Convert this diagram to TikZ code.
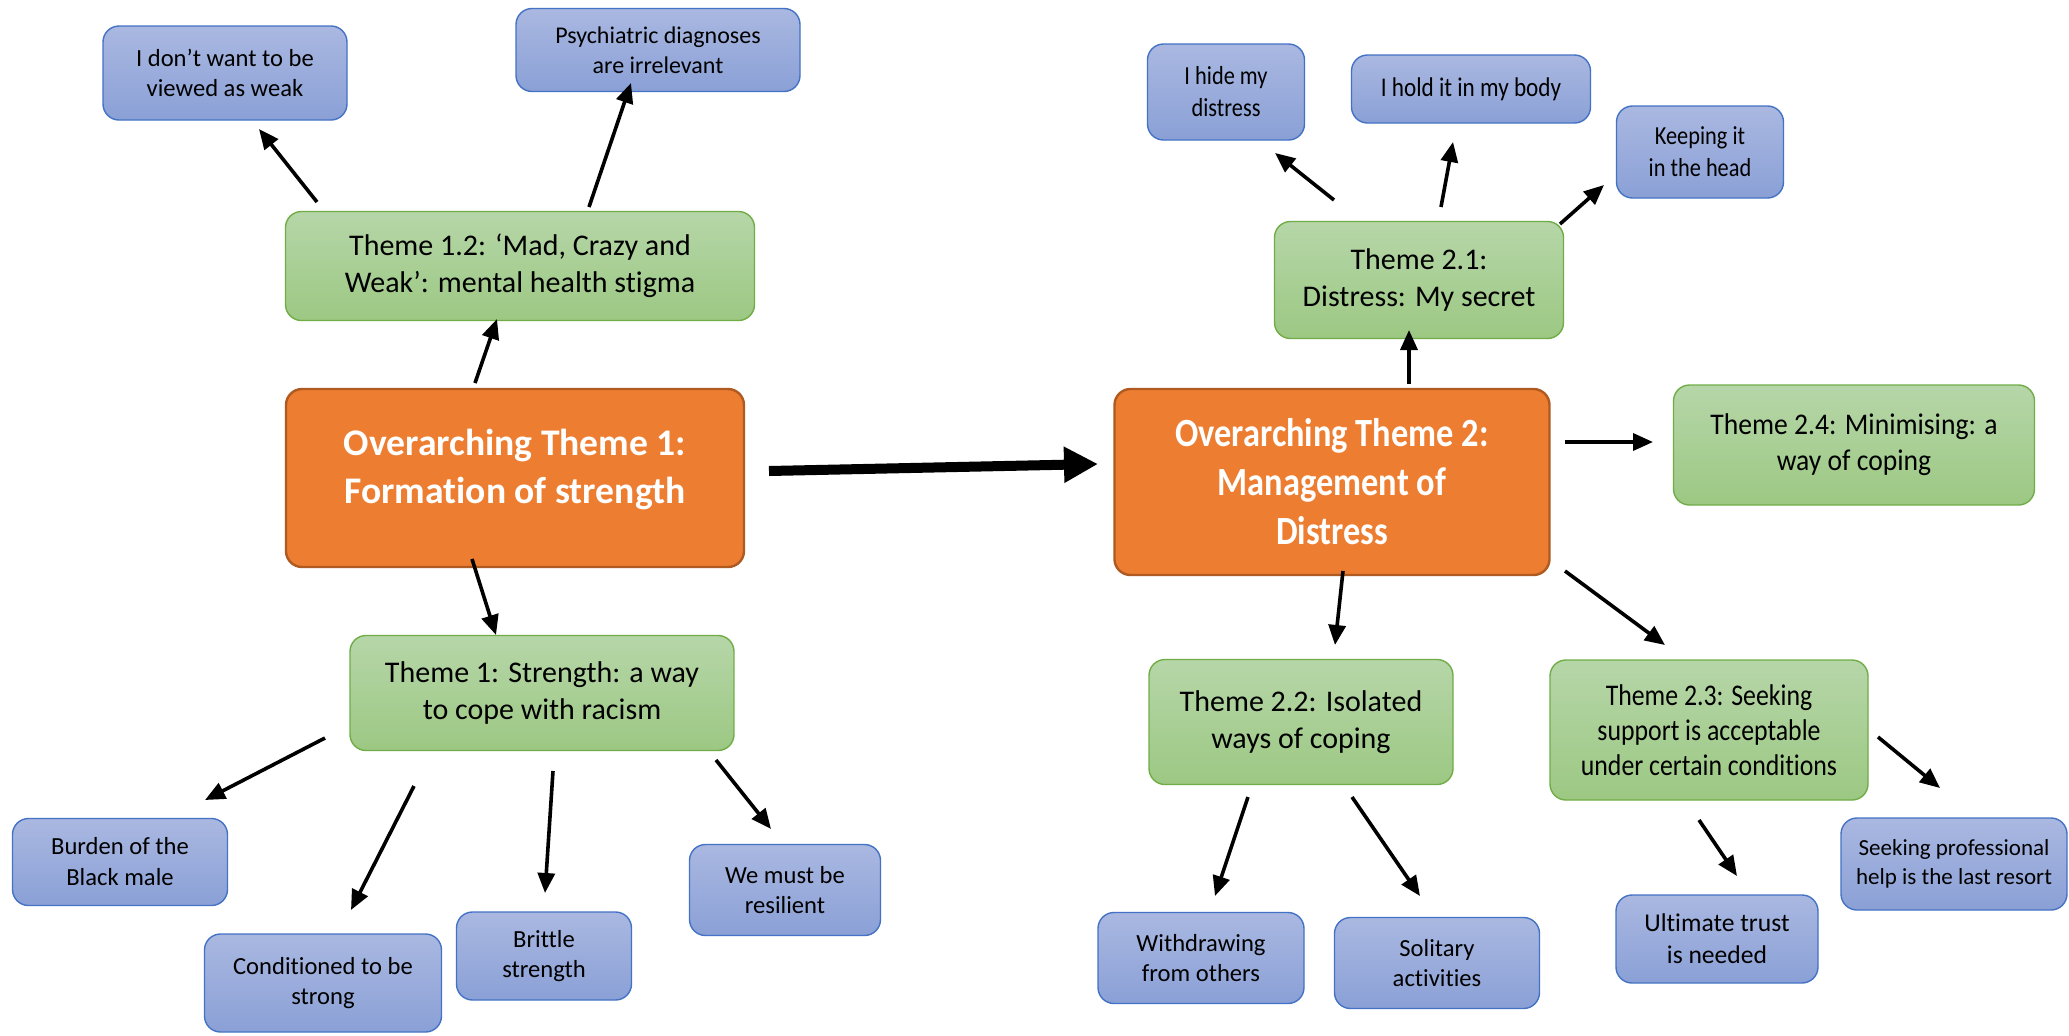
\documentclass[tikz,border=0pt]{standalone}
\usepackage{fontspec}
\setmainfont{Carlito}[Ligatures=CommonOff]
\newfontfamily\condfont[FakeStretch=0.86,Ligatures=CommonOff]{Carlito}
\newfontfamily\semicondfont[FakeStretch=0.92,Ligatures=CommonOff]{Carlito}
\usetikzlibrary{arrows.meta}
\definecolor{gtop}{HTML}{B6D6A8}
\definecolor{gbot}{HTML}{9CC883}
\definecolor{gline}{HTML}{70AD47}
\definecolor{btop}{HTML}{AAB8E1}
\definecolor{bbot}{HTML}{8AA0D6}
\definecolor{bline}{HTML}{4472C4}
\definecolor{ofill}{HTML}{ED7D31}
\definecolor{oline}{HTML}{AE5A21}
\tikzset{
  sz/.style 2 args={minimum width=#1*0.5pt, minimum height=#2*0.5pt},
  basebox/.style={rounded corners=8pt, align=center, inner sep=0pt, line width=0.7pt},
  greenbox/.style={basebox, draw=gline, top color=gtop, bottom color=gbot,
    font=\fontsize{15}{18.5}\selectfont},
  bluebox/.style={basebox, draw=bline, top color=btop, bottom color=bbot,
    font=\fontsize{12.3}{15}\selectfont},
  orangebox/.style={basebox, draw=oline, fill=ofill, line width=1.2pt, text=white,
    font=\fontsize{18.8}{24}\selectfont\bfseries},
  arr/.style={line width=1.8pt, -{Triangle[length=10pt,width=8.5pt]}},
  bigarr/.style={line width=5pt, -{Triangle[length=17pt,width=17pt]}}
}
\begin{document}
\begin{tikzpicture}[x=0.5pt,y=-0.5pt]
\useasboundingbox (0,0) rectangle (2069,1035);
\fill[white] (0,0) rectangle (2069,1035);

% ---- left cluster
\node[bluebox, sz={244}{94}] (weak) at (225,73) {I don’t want to be\\viewed as weak};
\node[bluebox, sz={284}{83}, font=\fontsize{12}{15}\selectfont] (psych) at (658,50) {Psychiatric diagnoses\\are irrelevant};
\node[greenbox, sz={469}{109}] (th12) at (520,266) {Theme 1.2: ‘Mad, Crazy and\\Weak’: mental health stigma};
\node[orangebox, sz={458}{178}, text depth=11.5pt] (ot1) at (515,478) {Overarching Theme 1:\\Formation of strength};
\node[greenbox, sz={384}{115}] (th1) at (542,693) {Theme 1: Strength: a way\\to cope with racism};
\node[bluebox, sz={215}{87}, font=\fontsize{12.3}{15.5}\selectfont] (burden) at (120,862) {Burden of the\\Black male};
\node[bluebox, sz={237}{98}] (cond) at (323,983) {Conditioned to be\\strong};
\node[bluebox, sz={175}{88}] (brittle) at (544,956) {Brittle\\strength};
\node[bluebox, sz={191}{91}] (resil) at (785,890) {We must be\\resilient};

% ---- right cluster
\node[bluebox, sz={157}{96}, font=\fontsize{13}{16}\selectfont\condfont] (hide) at (1226,92) {I hide my\\distress};
\node[bluebox, sz={239}{68}, font=\fontsize{13.5}{16}\selectfont\condfont] (hold) at (1471,89) {I hold it in my body};
\node[bluebox, sz={167}{92}, font=\fontsize{13}{16}\selectfont\condfont] (keep) at (1700,152) {Keeping it\\in the head};
\node[greenbox, sz={289}{117}] (th21) at (1419,280) {Theme 2.1:\\Distress: My secret};
\node[orangebox, sz={435}{186}, font=\fontsize{20}{24.5}\selectfont\bfseries\condfont] (ot2) at (1332,482) {Overarching Theme 2:\\Management of\\Distress};
\node[greenbox, sz={361}{120}, font=\fontsize{15}{18}\selectfont\semicondfont] (th24) at (1854,445) {Theme 2.4: Minimising: a\\way of coping};
\node[greenbox, sz={304}{125}] (th22) at (1301,722) {Theme 2.2: Isolated\\ways of coping};
\node[greenbox, sz={318}{140}, font=\fontsize{15}{17.5}\selectfont\condfont] (th23) at (1709,730) {Theme 2.3: Seeking\\support is acceptable\\under certain conditions};
\node[bluebox, sz={206}{91}] (withd) at (1201,958) {Withdrawing\\from others};
\node[bluebox, sz={205}{91}] (solit) at (1437,963) {Solitary\\activities};
\node[bluebox, sz={202}{88}, font=\fontsize{12.8}{16}\selectfont] (ult) at (1717,939) {Ultimate trust\\is needed};
\node[bluebox, sz={226}{92}, font=\fontsize{11.5}{14.5}\selectfont] (seek) at (1954,864) {Seeking professional\\help is the last resort};

% ---- arrow end points
\coordinate (a1s) at (317,202);  \coordinate (a1e) at (259,129);
\coordinate (a2s) at (589,207);  \coordinate (a2e) at (631,83);
\coordinate (a3s) at (475,383);  \coordinate (a3e) at (497,319);
\coordinate (a4s) at (472,559);  \coordinate (a4e) at (496,635);
\coordinate (a5s) at (325,738);  \coordinate (a5e) at (205,800);
\coordinate (a6s) at (414,786);  \coordinate (a6e) at (351,910);
\coordinate (a7s) at (553,771);  \coordinate (a7e) at (545,893);
\coordinate (a8s) at (716,760);  \coordinate (a8e) at (771,829);
\coordinate (bs) at (769,471);   \coordinate (be) at (1098,464);
\coordinate (c1s) at (1409,384); \coordinate (c1e) at (1409,330);
\coordinate (c2s) at (1334,200); \coordinate (c2e) at (1275,153);
\coordinate (c3s) at (1441,207); \coordinate (c3e) at (1453,142);
\coordinate (c4s) at (1560,224); \coordinate (c4e) at (1604,185);
\coordinate (c5s) at (1565,442); \coordinate (c5e) at (1653,442);
\coordinate (c6s) at (1343,571); \coordinate (c6e) at (1335,645);
\coordinate (c7s) at (1565,571); \coordinate (c7e) at (1665,645);
\coordinate (c8s) at (1248,797); \coordinate (c8e) at (1215,896);
\coordinate (c9s) at (1352,797); \coordinate (c9e) at (1420,896);
\coordinate (d1s) at (1699,820); \coordinate (d1e) at (1737,876);
\coordinate (d2s) at (1878,737); \coordinate (d2e) at (1940,788);

\draw[arr] (a1s) -- (a1e);
\draw[arr] (a2s) -- (a2e);
\draw[arr] (a3s) -- (a3e);
\draw[arr] (a4s) -- (a4e);
\draw[arr] (a5s) -- (a5e);
\draw[arr] (a6s) -- (a6e);
\draw[arr] (a7s) -- (a7e);
\draw[arr] (a8s) -- (a8e);
\draw[bigarr] (bs) -- (be);
\draw[arr] (c1s) -- (c1e);
\draw[arr] (c2s) -- (c2e);
\draw[arr] (c3s) -- (c3e);
\draw[arr] (c4s) -- (c4e);
\draw[arr] (c5s) -- (c5e);
\draw[arr] (c6s) -- (c6e);
\draw[arr] (c7s) -- (c7e);
\draw[arr] (c8s) -- (c8e);
\draw[arr] (c9s) -- (c9e);
\draw[arr] (d1s) -- (d1e);
\draw[arr] (d2s) -- (d2e);
\end{tikzpicture}
\end{document}
